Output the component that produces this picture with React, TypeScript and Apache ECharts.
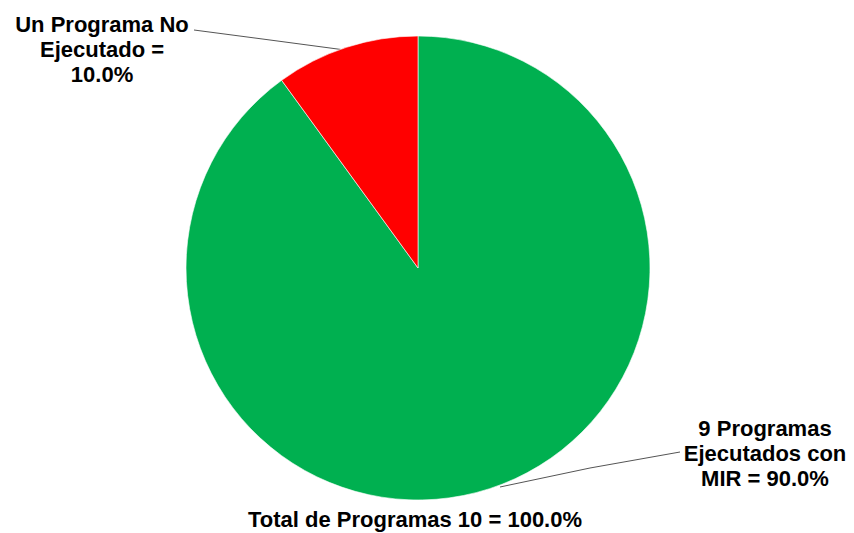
import React, { useEffect, useRef } from "react";
import * as echarts from "echarts";

const categories = ["9 Programas Ejecutados con MIR", "Un Programa No Ejecutado"];
const values = [9, 1];
const labelPrefixes = ["9 Programas\nEjecutados con\nMIR = ", "Un Programa No\nEjecutado =\n"];
const sliceColors = ["#00B050", "#FF0000"];
const totalLabel = "Total de Programas 10 = 100.0%";

export default function App() {
  const ref = useRef<HTMLDivElement>(null);
  useEffect(() => {
    if (!ref.current) return;
    const chart = echarts.init(ref.current, undefined, { renderer: "svg" });
    const font = "'Liberation Sans', Arial, sans-serif";
    chart.setOption({
      animation: false,
      backgroundColor: "#ffffff",
      title: {
        text: totalLabel,
        left: 248,
        top: 508,
        textStyle: { fontFamily: font, fontSize: 22, fontWeight: "bold", color: "#000" },
        padding: 0,
      },
      series: [
        {
          type: "pie",
          center: [418, 268],
          radius: 232,
          startAngle: 90,
          clockwise: true,
          data: categories.map((c, i) => ({
            name: c,
            value: values[i],
            itemStyle: { color: sliceColors[i] },
          })),
          itemStyle: { borderColor: "#ffffff", borderWidth: 0.6 },
          label: {
            show: true,
            fontFamily: font,
            fontSize: 22,
            fontWeight: "bold",
            lineHeight: 25,
            color: "#000",
            align: "center",
            formatter: (p: any) => labelPrefixes[p.dataIndex] + p.percent.toFixed(1) + "%",
          },
          labelLine: { show: true, lineStyle: { color: "#555", width: 1 } },
          labelLayout: (p: any) => {
            if (p.dataIndex === 1) {
              return {
                x: 102,
                y: 49,
                align: "center",
                verticalAlign: "middle",
                labelLinePoints: [[345, 50], [270, 40], [194, 30]],
              };
            }
            return {
              x: 765,
              y: 453,
              align: "center",
              verticalAlign: "middle",
              labelLinePoints: [[500, 487], [590, 468], [680, 452]],
            };
          },
        },
      ],
    });
    return () => chart.dispose();
  }, []);
  return (
    <div
      ref={ref}
      style={{ position: "fixed", left: 0, top: 0, width: 854, height: 533 }}
    />
  );
}
